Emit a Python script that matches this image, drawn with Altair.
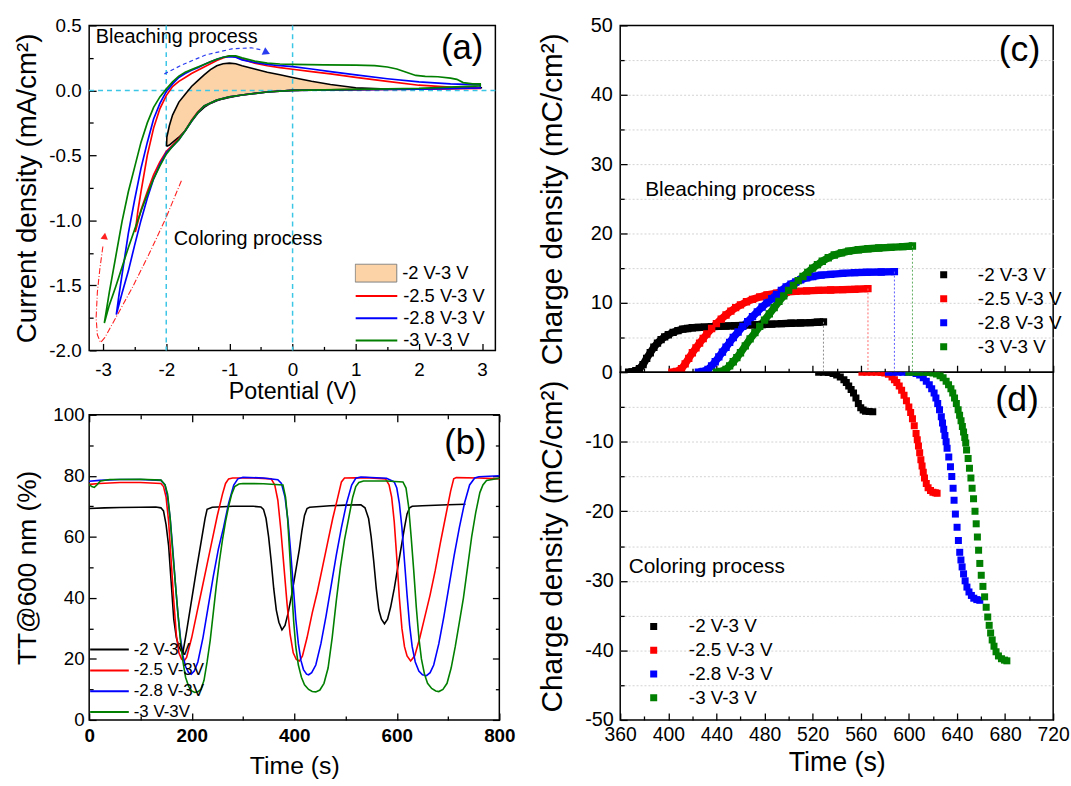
import altair as alt
import pandas as pd

FONT = "Liberation Sans"
SERIES_COLORS = ["#000000", "#ff0000", "#0000ff", "#007f00"]
CYAN = "#3cc6e6"
PEACH = "#fbd3a6"

# ======================= (a) cyclic voltammograms =======================
A_NAMES = ["-2 V-3 V", "-2.5 V-3 V", "-2.8 V-3 V", "-3 V-3 V"]
a20_x = [-1.995, -1.99, -1.95, -1.9, -1.8, -1.7, -1.6, -1.5, -1.4, -1.3, -1.2, -1.1, -1.0,
         -0.9, -0.8, -0.6, -0.4, -0.2, 0.0, 0.3, 0.6, 1.0, 1.5, 2.0, 2.5, 3.0]
a20_lo = [-0.43, -0.43, -0.42, -0.40, -0.36, -0.31, -0.24, -0.175, -0.13, -0.10, -0.08, -0.065, -0.055,
          -0.045, -0.035, -0.022, -0.012, -0.005, 0.0, 0.003, 0.005, 0.008, 0.01, 0.012, 0.015, 0.02]
a20_up = [-0.43, -0.36, -0.27, -0.19, -0.09, -0.03, 0.03, 0.075, 0.12, 0.16, 0.19, 0.205, 0.21,
          0.205, 0.19, 0.165, 0.14, 0.12, 0.10, 0.07, 0.045, 0.02, 0.01, 0.012, 0.015, 0.02]

a25_ux = [-2.49, -2.45, -2.4, -2.3, -2.2, -2.1, -2.0, -1.9, -1.8, -1.7, -1.6, -1.5, -1.4, -1.3, -1.2,
          -1.1, -1.0, -0.9, -0.8, -0.6, -0.4, -0.2, 0.0, 0.3, 0.6, 1.0, 1.5, 2.0, 2.5, 2.97]
a25_uy = [-1.09, -0.93, -0.78, -0.50, -0.29, -0.14, -0.04, 0.03, 0.07, 0.10, 0.13, 0.155, 0.18, 0.205, 0.23,
          0.25, 0.265, 0.26, 0.24, 0.21, 0.19, 0.175, 0.163, 0.145, 0.127, 0.10, 0.07, 0.04, 0.025, 0.02]
a25_lx = [2.97, 2.0, 1.0, 0.0, -0.4, -0.8, -1.0, -1.2, -1.4, -1.5, -1.6, -1.7, -1.8, -1.9, -2.0,
          -2.1, -2.2, -2.3, -2.4, -2.49]
a25_ly = [0.015, 0.01, 0.005, 0.0, -0.012, -0.035, -0.05, -0.075, -0.12, -0.165, -0.23, -0.31, -0.37, -0.42, -0.47,
          -0.55, -0.65, -0.78, -0.92, -1.09]

a28_ux = [-2.79, -2.75, -2.7, -2.6, -2.5, -2.4, -2.3, -2.2, -2.1, -2.0, -1.9, -1.8, -1.7, -1.6, -1.5, -1.4,
          -1.3, -1.2, -1.1, -1.0, -0.9, -0.8, -0.6, -0.4, -0.2, 0.0, 0.3, 0.6, 1.0, 1.5, 2.0, 2.5, 2.97]
a28_uy = [-1.725, -1.58, -1.42, -1.10, -0.84, -0.60, -0.40, -0.22, -0.10, -0.01, 0.05, 0.10, 0.13, 0.155, 0.175, 0.20,
          0.22, 0.24, 0.255, 0.26, 0.255, 0.235, 0.215, 0.20, 0.19, 0.183, 0.165, 0.145, 0.12, 0.09, 0.065, 0.05, 0.043]
a28_lx = [2.97, 2.0, 1.0, 0.0, -0.4, -0.8, -1.0, -1.2, -1.4, -1.5, -1.6, -1.7, -1.8, -1.9, -2.0, -2.1,
          -2.2, -2.3, -2.4, -2.5, -2.6, -2.7, -2.79]
a28_ly = [0.02, 0.01, 0.005, 0.0, -0.012, -0.035, -0.05, -0.075, -0.12, -0.17, -0.235, -0.31, -0.38, -0.43, -0.48, -0.57,
          -0.68, -0.83, -1.00, -1.19, -1.39, -1.56, -1.725]

a30_ux = [-2.98, -2.95, -2.9, -2.8, -2.7, -2.6, -2.5, -2.4, -2.3, -2.2, -2.1, -2.0, -1.9, -1.8, -1.7, -1.6,
          -1.5, -1.4, -1.3, -1.2, -1.1, -1.0, -0.9, -0.8, -0.6, -0.4, -0.2, 0.0, 0.5, 1.0, 1.3, 1.5, 1.65,
          1.8, 1.95, 2.1, 2.3, 2.5, 2.6, 2.7, 2.85, 2.97]
a30_uy = [-1.79, -1.70, -1.55, -1.28, -1.01, -0.78, -0.59, -0.40, -0.25, -0.13, -0.05, 0.01, 0.065, 0.11, 0.14, 0.16,
          0.18, 0.20, 0.22, 0.24, 0.255, 0.265, 0.265, 0.25, 0.225, 0.21, 0.203, 0.20, 0.197, 0.195, 0.19, 0.18, 0.165,
          0.14, 0.115, 0.108, 0.105, 0.095, 0.085, 0.06, 0.05, 0.05]
a30_lx = [2.97, 2.0, 1.0, 0.0, -0.4, -0.8, -1.0, -1.2, -1.4, -1.5, -1.6, -1.7, -1.8, -1.9, -2.0, -2.1,
          -2.2, -2.3, -2.4, -2.5, -2.6, -2.7, -2.8, -2.9, -2.98]
a30_ly = [0.035, 0.015, 0.008, 0.0, -0.012, -0.035, -0.05, -0.075, -0.12, -0.17, -0.235, -0.31, -0.38, -0.43, -0.49, -0.58,
          -0.68, -0.80, -0.93, -1.07, -1.21, -1.36, -1.51, -1.65, -1.79]

arr_b_x = [-2.03, -1.75, -1.38, -0.96, -0.65, -0.48]
arr_b_y = [0.127, 0.196, 0.272, 0.32, 0.328, 0.31]
arr_r_x = [-1.76, -2.01, -2.28, -2.54, -2.80, -2.97, -3.04, -3.09, -3.11, -3.09, -3.05, -3.0]
arr_r_y = [-0.695, -0.987, -1.267, -1.52, -1.75, -1.90, -1.94, -1.88, -1.75, -1.55, -1.37, -1.19]
A_REF_X = [-2, 0]
A_REF_Y = [0]

# ======================= (b) transmittance =======================
B_NAMES = ["-2 V-3V", "-2.5 V-3V", "-2.8 V-3V", "-3 V-3V"]
b20_t = [0, 30, 60, 100, 130, 140, 145, 150, 155, 160, 165, 170, 175, 180, 183, 190, 200, 210, 220, 226,
         230, 240, 280, 320, 335, 340, 345, 350, 355, 360, 365, 370, 376, 382, 388, 395, 400, 405, 410, 415,
         420, 425, 430, 470, 500, 530, 538, 545, 550, 555, 560, 565, 570, 576, 582, 588, 595, 600, 605, 610,
         615, 620, 625, 630, 650, 700, 734]
b20_y = [69.3, 69.5, 69.6, 69.7, 69.8, 69.5, 68.5, 64, 57, 45, 33, 27, 24, 22.5, 22.3, 29, 39.5, 50, 60, 66,
         69, 69.7, 70, 70, 69.8, 69, 66, 60, 52, 43, 36, 32, 29.5, 31, 35, 41, 46, 51, 56, 62,
         67, 69.3, 69.7, 70.2, 70.4, 70.5, 69.5, 66, 60, 52, 43, 36, 33, 31.5, 33, 37, 43, 48, 53, 58,
         63, 67.5, 69.5, 70, 70.2, 70.5, 70.7]
b25_t = [0, 20, 60, 100, 140, 145, 150, 155, 160, 165, 170, 175, 180, 185, 190, 200, 210, 220, 230, 240,
         250, 260, 266, 272, 280, 320, 355, 362, 368, 374, 380, 386, 392, 398, 404, 410, 416, 425, 435, 445,
         455, 465, 475, 485, 492, 498, 540, 578, 585, 590, 595, 600, 605, 610, 615, 620, 627, 635, 645, 655,
         665, 675, 685, 695, 705, 711, 716, 760, 800]
b25_y = [77.2, 77.5, 77.8, 77.8, 77.5, 76.5, 73, 65, 52, 39, 28, 22, 20, 19.3, 20.5, 27, 35, 43, 51, 59,
         67, 74, 77.5, 79, 79.3, 79.3, 79, 77, 72, 62, 50, 38, 28, 22, 19.8, 19.3, 21, 27, 35, 42,
         50, 58, 66, 73, 78, 79.3, 79.4, 79, 77, 73, 65, 53, 40, 30, 24, 21, 19.3, 21, 27, 34,
         41, 49, 58, 66.5, 75, 79, 79.4, 79.3, 79]
b28_t = [0, 20, 60, 100, 140, 148, 153, 158, 163, 168, 173, 178, 183, 188, 194, 199, 205, 212, 222, 232,
         242, 252, 262, 272, 282, 290, 300, 340, 368, 375, 382, 388, 393, 398, 403, 408, 413, 418, 424, 428,
         434, 442, 452, 462, 472, 482, 492, 502, 512, 520, 530, 580, 595, 600, 605, 610, 615, 620, 625, 630,
         636, 643, 650, 658, 665, 672, 682, 692, 702, 712, 722, 732, 742, 752, 760, 800]
b28_y = [78.2, 78.5, 78.8, 78.8, 78.5, 77, 73, 66, 56, 45, 35, 27, 21, 17.5, 15.5, 15, 16, 19, 27, 37,
         47, 56, 63, 71, 77, 79, 79.5, 79.3, 78.7, 77.5, 73, 65, 55, 44, 33, 25, 19.5, 16.5, 15, 14.8,
         15.5, 18, 25, 34, 44, 54, 63, 71, 77, 79.2, 79.6, 79.2, 78, 76, 71, 63, 52, 41, 31, 24,
         19, 16, 14.8, 14.5, 15.5, 18, 25, 34, 44, 54, 63, 71, 77, 79.3, 79.7, 80]
b30_t = [0, 5, 10, 15, 22, 40, 100, 140, 148, 153, 158, 163, 168, 173, 178, 183, 188, 194, 200, 206,
         212, 218, 224, 230, 236, 242, 248, 254, 260, 266, 272, 278, 284, 292, 300, 340, 378, 383, 387, 391,
         395, 399, 403, 408, 414, 420, 428, 435, 442, 450, 458, 466, 474, 482, 490, 498, 506, 514, 520, 526,
         535, 580, 612, 618, 623, 628, 633, 638, 643, 648, 654, 660, 668, 676, 682, 690, 698, 706, 714, 722,
         730, 738, 746, 754, 762, 768, 775, 800]
b30_y = [77.2, 76.5, 76.2, 77, 78.3, 78.8, 78.9, 78.6, 77, 74, 66, 55, 45, 35, 26, 19, 14, 11, 9.5, 9,
         9.2, 10, 13, 19, 26, 35, 44, 52, 59, 65, 70, 74, 76.5, 77.3, 77.5, 77.4, 77, 73, 66, 55,
         43, 32, 24, 18, 14, 11.5, 10, 9.3, 9.2, 9.8, 12, 17, 27, 39, 50, 59, 66, 73, 76.5, 77.8,
         78.3, 78.3, 78, 76, 70, 60, 49, 37, 27, 20, 15, 12, 10.3, 9.5, 9.3, 10, 12, 17, 24, 32,
         40, 50, 60, 68, 74.5, 77, 78.5, 79.2]

# ======================= (c) bleaching charge =======================
CD_NAMES = ["-2 V-3 V", "-2.5 V-3 V", "-2.8 V-3 V", "-3 V-3 V"]
c20_t = [367, 370, 373, 376, 379, 382, 385, 388, 391, 394, 397, 400, 404, 408, 412, 416, 420, 425, 430, 436,
         442, 448, 455, 462, 470, 478, 486, 494, 502, 510, 518, 524, 529]
c20_v = [0, 0.05, 0.2, 0.5, 1.1, 2.0, 2.8, 3.6, 4.2, 4.7, 5.1, 5.4, 5.75, 6.0, 6.2, 6.3, 6.4, 6.45, 6.5, 6.55,
         6.6, 6.65, 6.7, 6.75, 6.82, 6.88, 6.93, 7.0, 7.05, 7.1, 7.15, 7.2, 7.25]
c25_t = [403, 407, 411, 414, 417, 420, 423, 426, 429, 432, 436, 440, 444, 448, 452, 456, 460, 465, 470, 476,
         482, 490, 498, 506, 515, 525, 535, 545, 555, 566]
c25_v = [0, 0.1, 0.5, 1.2, 2.0, 2.8, 3.5, 4.2, 4.85, 5.5, 6.3, 7.0, 7.65, 8.25, 8.8, 9.3, 9.7, 10.15, 10.5, 10.85,
         11.15, 11.4, 11.55, 11.65, 11.72, 11.8, 11.85, 11.9, 11.95, 12.05]
c28_t = [425, 429, 433, 436, 439, 442, 445, 448, 451, 454, 458, 462, 466, 470, 474, 478, 482, 486, 490, 494,
         498, 502, 506, 510, 515, 520, 527, 535, 545, 555, 565, 577, 588]
c28_v = [0, 0.1, 0.4, 0.9, 1.5, 2.2, 2.9, 3.6, 4.3, 5.0, 5.8, 6.6, 7.3, 8.0, 8.7, 9.4, 10.0, 10.6, 11.2, 11.8,
         12.3, 12.7, 13.0, 13.3, 13.6, 13.8, 14.0, 14.1, 14.25, 14.35, 14.4, 14.45, 14.5]
c30_t = [440, 444, 448, 451, 454, 457, 460, 464, 468, 472, 476, 480, 484, 488, 492, 496, 500, 504, 508, 512,
         516, 520, 524, 528, 533, 538, 544, 550, 558, 566, 575, 585, 595, 603]
c30_v = [0, 0.1, 0.4, 0.9, 1.5, 2.1, 2.8, 3.8, 4.8, 5.7, 6.6, 7.5, 8.4, 9.3, 10.2, 11.0, 11.8, 12.5, 13.2, 13.8,
         14.4, 15.0, 15.5, 16.0, 16.5, 16.9, 17.2, 17.45, 17.65, 17.8, 17.9, 18.0, 18.1, 18.2]

# ======================= (d) coloring charge =======================
d20_t = [525, 529, 533, 537, 540, 543, 546, 548, 550, 552, 554, 556, 558, 560, 562, 564, 567, 570]
d20_v = [0, 0, -0.05, -0.2, -0.4, -0.7, -1.1, -1.5, -2.0, -2.5, -3.0, -3.7, -4.5, -5.1, -5.45, -5.6, -5.65, -5.7]
d25_t = [561, 565, 569, 573, 577, 580, 583, 586, 588, 590, 592, 594, 596, 598, 600, 601.5, 603, 604.5, 606, 607,
         608, 609, 610, 611, 612, 613, 614.5, 616, 618, 620, 622, 623.5]
d25_v = [0, 0, 0, 0, -0.05, -0.1, -0.3, -0.7, -1.1, -1.5, -2.0, -2.6, -3.3, -4.1, -5.0, -5.8, -6.7, -7.7, -8.8, -9.7,
         -10.6, -11.6, -12.6, -13.5, -14.4, -15.2, -16.0, -16.6, -17.0, -17.25, -17.35, -17.4]
d28_t = [583, 587, 591, 595, 599, 603, 606, 609, 612, 614.5, 617, 619, 621, 622.5, 624, 625.5, 627, 628, 629, 630,
         631, 631.8, 633.2, 634.6, 635.7, 636.8, 637.6, 638.7, 640.1, 641.2, 642.3, 643.3, 644.3, 645.5, 646.8,
         648.3, 650, 652, 654, 656.5, 659]
d28_v = [0, 0, 0, 0, 0, -0.05, -0.2, -0.4, -0.8, -1.3, -1.8, -2.4, -3.0, -3.7, -4.5, -5.4, -6.4, -7.3, -8.2, -9.1,
         -10.0, -10.95, -12.2, -13.6, -15.0, -16.7, -18.4, -20.4, -22.3, -24.2, -25.9, -27.0, -28.0, -29.0, -30.0,
         -30.9, -31.6, -32.1, -32.5, -32.7, -32.8]
d30_t = [600, 604, 608, 612, 616, 620, 623, 626, 628.5, 631, 633, 635, 636.5, 638, 639.5, 641, 642.2, 643.4, 644.5,
         645.5, 646.5, 647.3, 648, 649.3, 650.4, 651.6, 652.6, 653.8, 655, 656, 657, 658, 659, 660.2, 661.6, 663,
         664.3, 665.6, 666.8, 668, 669.3, 670.8, 672.5, 674.5, 677, 679.5, 681.5]
d30_v = [0, 0, 0, 0, -0.05, -0.1, -0.25, -0.5, -0.8, -1.3, -1.8, -2.4, -3.0, -3.7, -4.5, -5.4, -6.2, -7.0, -7.8,
         -8.6, -9.4, -10.2, -11.2, -12.4, -13.8, -15.2, -16.7, -18.2, -20.0, -21.8, -23.7, -25.6, -27.5, -29.2, -30.8,
         -32.3, -33.8, -35.2, -36.4, -37.5, -38.5, -39.4, -40.2, -40.8, -41.2, -41.4, -41.5]

# ticks
A_XT = [-3, -2, -1, 0, 1, 2, 3]
A_XM = [-2.5, -1.5, -0.5, 0.5, 1.5, 2.5]
A_YT = [-2.0, -1.5, -1.0, -0.5, 0.0, 0.5]
A_YM = [-1.75, -1.25, -0.75, -0.25, 0.25]
B_XT = [0, 200, 400, 600, 800]
B_XM = [100, 300, 500, 700]
B_YT = [0, 20, 40, 60, 80, 100]
B_YM = [10, 30, 50, 70, 90]
CD_XT = [360, 400, 440, 480, 520, 560, 600, 640, 680, 720]
CD_XM = [380, 420, 460, 500, 540, 580, 620, 660, 700]
C_YT = [0, 10, 20, 30, 40, 50]
C_YM = [5, 15, 25, 35, 45]
C_GRID = [5, 10, 15, 20, 25, 30, 35, 40, 45]
D_YT = [-50, -40, -30, -20, -10]
D_YM = [-45, -35, -25, -15, -5]
D_GRID = [-45, -40, -35, -30, -25, -20, -15, -10, -5]

A_W, A_H = 410, 328
B_W, B_H = 414, 308
CD_W, C_H, D_H = 437, 350, 351


def lbl(fmt):
    return ("datum.value < 0 ? '-' + format(-datum.value, '%s') : format(datum.value, '%s')" % (fmt, fmt))


def main_axis(orient, values, fmt, title, lsize, tsize, lpad, tx=None, ty=None, bold=False):
    kw = dict(orient=orient, values=values, labelExpr=lbl(fmt), title=title,
              labelFont=FONT, labelFontSize=lsize, labelColor="black",
              labelFontWeight="bold" if bold else "normal", labelPadding=lpad,
              labelFlush=False, labelOverlap=False,
              titleFont=FONT, titleFontSize=tsize, titleFontWeight="normal", titleColor="black",
              ticks=False, tickSize=0, domain=False, grid=False)
    if tx is not None:
        kw["titleX"] = tx
    if ty is not None:
        kw["titleY"] = ty
    return alt.Axis(**kw)


def tick_axis(orient, values, size, offset):
    return alt.Axis(orient=orient, values=values, labels=False, ticks=True, tickSize=size,
                    tickWidth=1.3, tickColor="black", domain=False, grid=False, title=None, offset=offset)


def grid_axis(values):
    return alt.Axis(orient="left", values=values, labels=False, ticks=False, domain=False, grid=True,
                    gridColor="#d2d2d2", gridDash=[2, 2], gridWidth=1, title=None)


def XQ(f, s, axis=None):
    return alt.X(f, type="quantitative", scale=s, axis=axis)


def YQ(f, s, axis=None):
    return alt.Y(f, type="quantitative", scale=s, axis=axis)


def frame_layers(df, xf, yf, xs, ys, W, H, xmaj, xmin, ymaj, ymin, mirror=False):
    out = []

    def inv(xax, yax):
        return alt.Chart(df).mark_point(opacity=0, size=1).encode(x=XQ(xf, xs, xax), y=YQ(yf, ys, yax))
    sides = [("top", "right")] + ([("bottom", "left")] if mirror else [])
    for xo, yo in sides:
        out.append(inv(tick_axis(xo, xmaj, 7, -H), tick_axis(yo, ymaj, 7, -W)))
        out.append(inv(tick_axis(xo, xmin, 4, -H), tick_axis(yo, ymin, 4, -W)))
    return out


def grid_layer(df, xf, yf, xs, ys, values):
    return alt.Chart(df).mark_point(opacity=0, size=1).encode(x=XQ(xf, xs), y=YQ(yf, ys, grid_axis(values)))


ONE = pd.DataFrame({"k": [0]})


def note(xs, ys, x, y, text, size, align="left"):
    return alt.Chart(ONE).mark_text(text=text, font=FONT, fontSize=size, align=align, baseline="middle",
                                    color="black").encode(
        x=alt.XDatum(x, scale=xs, axis=None), y=alt.YDatum(y, scale=ys, axis=None))


def leg(x, y, stype, ssize, clip, rowpad, loff, fsize, **kw):
    return alt.Legend(title=None, orient="none", legendX=x, legendY=y, symbolType=stype, symbolSize=ssize,
                      clipHeight=clip, rowPadding=rowpad, labelOffset=loff, labelFont=FONT,
                      labelFontSize=fsize, labelColor="black", padding=0, **kw)


# ---------------------------- panel (a) ----------------------------
xa = alt.Scale(domain=[-3.22, 3.21], nice=False, zero=False)
ya = alt.Scale(domain=[-2.0, 0.5], nice=False, zero=False)

df_a20 = pd.DataFrame({"x": a20_x, "lo": a20_lo, "up": a20_up, "name": A_NAMES[0]})
ol_x = a20_x + a20_x[::-1]
ol_y = a20_lo + a20_up[::-1]
df_a20o = pd.DataFrame({"x": ol_x, "y": ol_y, "i": list(range(len(ol_x)))})
loops = []
for nm, ux, uy, lx, ly in [(A_NAMES[1], a25_ux, a25_uy, a25_lx, a25_ly),
                           (A_NAMES[2], a28_ux, a28_uy, a28_lx, a28_ly),
                           (A_NAMES[3], a30_ux, a30_uy, a30_lx, a30_ly)]:
    xs_ = ux + lx
    ys_ = uy + ly
    loops.append(pd.DataFrame({"x": xs_, "y": ys_, "i": list(range(len(xs_))), "series": nm}))
df_aloop = pd.concat(loops, ignore_index=True)

a_layers = [
    alt.Chart(df_a20).mark_area(interpolate="monotone").encode(
        x=XQ("x", xa, main_axis("bottom", A_XT, ".0f", "Potential (V)", 19, 23.5, 10, ty=30)),
        y=YQ("lo", ya, main_axis("left", A_YT, ".1f", "Current density (mA/cm²)", 19, 28, 8, tx=-48)),
        y2=alt.Y2("up"),
        fill=alt.Fill("name:N", scale=alt.Scale(domain=[A_NAMES[0]], range=[PEACH]),
                      legend=leg(268, 240, "M-1,-0.43H1V0.43H-1Z", 1764, 20, 0, 5, 18.5,
                                 symbolStrokeColor="#808080", symbolStrokeWidth=1))),
    alt.Chart(pd.DataFrame({"x": A_REF_X})).mark_rule(color=CYAN, strokeDash=[5, 4], strokeWidth=1.5).encode(
        x=XQ("x", xa)),
    alt.Chart(pd.DataFrame({"y": A_REF_Y})).mark_rule(color=CYAN, strokeDash=[5, 4], strokeWidth=1.5).encode(
        y=YQ("y", ya)),
    alt.Chart(df_a20o).mark_line(color="black", strokeWidth=1.6).encode(
        x=XQ("x", xa), y=YQ("y", ya), order="i:Q"),
    alt.Chart(df_aloop).mark_line(strokeWidth=1.7).encode(
        x=XQ("x", xa), y=YQ("y", ya), order="i:Q",
        stroke=alt.Stroke("series:N", scale=alt.Scale(domain=A_NAMES[1:], range=SERIES_COLORS[1:]),
                          legend=leg(268, 263, "stroke", 1764, 20, 2.5, 5, 18.5, symbolStrokeWidth=2))),
    alt.Chart(pd.DataFrame({"x": arr_b_x, "y": arr_b_y, "i": list(range(len(arr_b_x)))})).mark_line(
        color="#2a3cf0", strokeDash=[4, 3], strokeWidth=1.2).encode(x=XQ("x", xa), y=YQ("y", ya), order="i:Q"),
    alt.Chart(pd.DataFrame({"x": arr_r_x, "y": arr_r_y, "i": list(range(len(arr_r_x)))})).mark_line(
        color="#ff2020", strokeDash=[6, 2, 1, 2], strokeWidth=1.1).encode(x=XQ("x", xa), y=YQ("y", ya), order="i:Q"),
    alt.Chart(ONE).mark_point(shape="triangle-right", filled=True, size=70, color="#2a3cf0", angle=25, opacity=1).encode(
        x=alt.XDatum(-0.41, scale=xa, axis=None), y=alt.YDatum(0.292, scale=ya, axis=None)),
    alt.Chart(ONE).mark_point(shape="triangle-up", filled=True, size=55, color="#ff2020", angle=8, opacity=1).encode(
        x=alt.XDatum(-2.975, scale=xa, axis=None), y=alt.YDatum(-1.12, scale=ya, axis=None)),
    note(xa, ya, -3.115, 0.41, "Bleaching process", 20),
    note(xa, ya, -1.88, -1.145, "Coloring process", 20),
    note(xa, ya, 2.685, 0.323, "(a)", 35, "center"),
] + frame_layers(df_a20, "x", "lo", xa, ya, A_W, A_H, A_XT, A_XM, A_YT, A_YM)

pa = alt.layer(*a_layers).resolve_axis(x="independent", y="independent").properties(width=A_W, height=A_H)

# ---------------------------- panel (b) ----------------------------
xb = alt.Scale(domain=[0, 800], nice=False, zero=False)
yb = alt.Scale(domain=[0, 100], nice=False, zero=False)
df_b = pd.concat([pd.DataFrame({"t": t, "y": y, "series": nm})
                  for nm, t, y in zip(B_NAMES, [b20_t, b25_t, b28_t, b30_t], [b20_y, b25_y, b28_y, b30_y])],
                 ignore_index=True)
b_layers = [
    alt.Chart(df_b).mark_line(strokeWidth=1.6).encode(
        x=XQ("t", xb, main_axis("bottom", B_XT, ".0f", "Time (s)", 19, 25, 7, ty=34, bold=True)),
        y=YQ("y", yb, main_axis("left", B_YT, ".0f", "TT@600 nm (%)", 19, 26.5, 5, tx=-48)),
        stroke=alt.Stroke("series:N", scale=alt.Scale(domain=B_NAMES, range=SERIES_COLORS),
                          legend=leg(0, 227.5, "stroke", 1521, 19, 2, 4, 17, symbolStrokeWidth=2))),
    note(xb, yb, 733.7, 90.8, "(b)", 35, "center"),
] + frame_layers(df_b, "t", "y", xb, yb, B_W, B_H, B_XT, B_XM, B_YT, B_YM, mirror=True)
pb = alt.layer(*b_layers).resolve_axis(x="independent", y="independent").properties(width=B_W, height=B_H)

# ---------------------------- panel (c) ----------------------------
xc = alt.Scale(domain=[360, 720], nice=False, zero=False)
yc = alt.Scale(domain=[0, 50], nice=False, zero=False)
yd = alt.Scale(domain=[-50, 0], nice=False, zero=False)
c_series = [(c20_t, c20_v), (c25_t, c25_v), (c28_t, c28_v), (c30_t, c30_v)]
df_c = pd.concat([pd.DataFrame({"t": t, "v": v, "series": nm}) for nm, (t, v) in zip(CD_NAMES, c_series)],
                 ignore_index=True)
DROP_COLS = ["#8c8c8c", "#ff6a6a", "#5a5aff", "#5fae5f"]
c_layers = [grid_layer(df_c, "t", "v", xc, yc, C_GRID)]
for i, (t, v) in enumerate(c_series):
    df_i = pd.DataFrame({"t": t, "v": v})
    c_layers.append(alt.Chart(df_i).mark_line(strokeWidth=7.5, clip=True, color=SERIES_COLORS[i]).encode(
        x=XQ("t", xc),
        y=YQ("v", yc, main_axis("left", C_YT, ".0f", "Charge density (mC/cm²)", 20, 30, 8, tx=-53)
             if i == 0 else None)))
c_layers.append(alt.Chart(df_c).mark_square(size=55, opacity=1, clip=True).encode(
    x=XQ("t", xc), y=YQ("v", yc),
    color=alt.Color("series:N", scale=alt.Scale(domain=CD_NAMES, range=SERIES_COLORS),
                    legend=leg(317, 241.7, "square", 50, 20, 4.2, 25, 19, symbolStrokeWidth=0))))
for (t, v), col in zip(c_series, DROP_COLS):
    c_layers.append(alt.Chart(pd.DataFrame({"t": [t[-1]], "v": [v[-1]]})).mark_rule(
        color=col, strokeDash=[2, 2], strokeWidth=1).encode(x=XQ("t", xc), y=YQ("v", yc), y2=alt.Y2Datum(0)))
c_layers += [
    note(xc, yc, 380.8, 26.2, "Bleaching process", 21),
    note(xc, yc, 692, 46.4, "(c)", 36, "center"),
] + frame_layers(df_c, "t", "v", xc, yc, CD_W, C_H, CD_XT, CD_XM, C_YT, C_YM)
pc = alt.layer(*c_layers).resolve_axis(x="independent", y="independent").properties(width=CD_W, height=C_H)

# ---------------------------- panel (d) ----------------------------
d_series = [(d20_t, d20_v), (d25_t, d25_v), (d28_t, d28_v), (d30_t, d30_v)]
df_d = pd.concat([pd.DataFrame({"t": t, "v": v, "series": nm}) for nm, (t, v) in zip(CD_NAMES, d_series)],
                 ignore_index=True)
d_layers = [grid_layer(df_d, "t", "v", xc, yd, D_GRID),
    alt.Chart(df_d).mark_square(size=50, opacity=1, clip=True).encode(
        x=XQ("t", xc, main_axis("bottom", CD_XT, ".0f", "Time (s)", 19.5, 27, 6, ty=30)),
        y=YQ("v", yd, main_axis("left", D_YT, ".0f", "Charge density (mC/cm²)", 20, 30, 7, tx=-53)),
        color=alt.Color("series:N", scale=alt.Scale(domain=CD_NAMES, range=SERIES_COLORS),
                        legend=leg(24.3, 246.7, "square", 50, 20, 4, 26, 19, symbolStrokeWidth=0))),
    note(xc, yd, 367.1, -28.0, "Coloring process", 21),
    note(xc, yd, 690, -4.0, "(d)", 36, "center"),
] + frame_layers(df_d, "t", "v", xc, yd, CD_W, D_H, CD_XT, CD_XM, D_YT, D_YM)
pd_ = alt.layer(*d_layers).resolve_axis(x="independent", y="independent").properties(width=CD_W, height=D_H)

RES = dict(color="independent", fill="independent", stroke="independent")
left = alt.vconcat(pa, pb, spacing=65, bounds="flush").resolve_scale(**RES)
right = alt.vconcat(pc, pd_, spacing=0, bounds="flush").resolve_scale(**RES)

chart = alt.hconcat(left, right, spacing=21).resolve_scale(**RES).properties(
    padding={"left": 13, "top": 11, "right": 0, "bottom": 0}, background="white"
).configure_view(stroke="black", strokeWidth=1.5).configure_axis(labelFont=FONT, titleFont=FONT)

chart.save("out.html", embed_options={"renderer": "svg", "actions": False})
